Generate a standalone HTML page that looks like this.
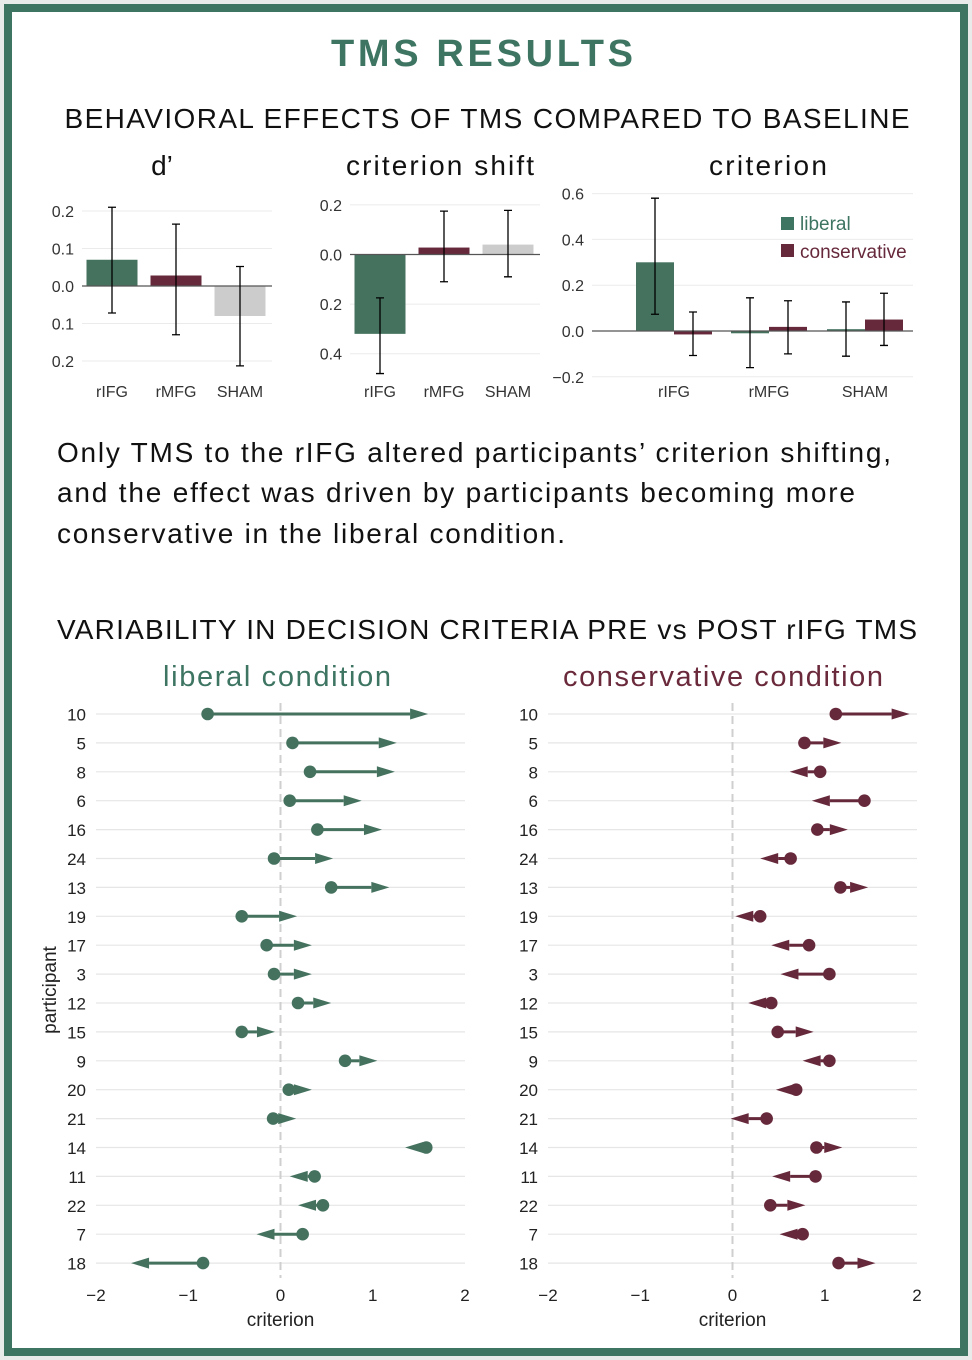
<!DOCTYPE html>
<html><head><meta charset="utf-8">
<style>
html,body{margin:0;padding:0;background:#fff;}
svg{display:block;font-family:"Liberation Sans",sans-serif;}
</style></head>
<body>
<svg id="s" width="972" height="1360" viewBox="0 0 972 1360" xmlns="http://www.w3.org/2000/svg">
<rect x="0" y="0" width="972" height="1360" fill="#e8ebe9"/>
<rect x="8" y="8" width="956" height="1344" fill="#fff" stroke="#3d7462" stroke-width="8"/>
<text x="484" y="66" text-anchor="middle" font-size="38" font-weight="bold" fill="#3d7462" letter-spacing="4" textLength="306">TMS RESULTS</text>
<text x="487" y="128" text-anchor="middle" font-size="28" fill="#111" textLength="845">BEHAVIORAL EFFECTS OF TMS COMPARED TO BASELINE</text>
<text x="162" y="175" text-anchor="middle" font-size="28" fill="#111">d’</text>
<text x="440" y="175" text-anchor="middle" font-size="28" fill="#111" textLength="188">criterion shift</text>
<text x="768" y="175" text-anchor="middle" font-size="28" fill="#111" textLength="118">criterion</text>
<g font-size="28" fill="#111">
<text x="57" y="462" textLength="834">Only TMS to the rIFG altered participants’ criterion shifting,</text>
<text x="57" y="502" textLength="798">and the effect was driven by participants becoming more</text>
<text x="57" y="543" textLength="508">conservative in the liberal condition.</text>
</g>
<text x="487" y="639" text-anchor="middle" font-size="28" fill="#111" textLength="860">VARIABILITY IN DECISION CRITERIA PRE vs POST rIFG TMS</text>
<text x="277" y="686" text-anchor="middle" font-size="29" fill="#3d7462" textLength="228">liberal condition</text>
<text x="723" y="686" text-anchor="middle" font-size="29" fill="#6a2a3c" textLength="320">conservative condition</text>
<g id="g"></g>
</svg>
<script>
const GREEN="#44725f", RED="#66283b", GRAY="#cccccc";
// d' chart
const dpCats=["rIFG","rMFG","SHAM"];
const dpVals=[0.07,0.028,-0.08];
const dpHi=[0.21,0.165,0.052];
const dpLo=[-0.072,-0.13,-0.213];
const dpTicks=[0.2,0.1,0,-0.1,-0.2];
const dpTickLabels=["0.2","0.1","0.0","0.1","0.2"];
// criterion shift chart
const csVals=[-0.32,0.028,0.04];
const csHi=[-0.175,0.175,0.178];
const csLo=[-0.48,-0.11,-0.09];
const csTicks=[0.2,0,-0.2,-0.4];
const csTickLabels=["0.2","0.0","0.2","0.4"];
// criterion chart
const crLib=[0.30,-0.01,0.008];
const crLibHi=[0.58,0.145,0.127];
const crLibLo=[0.073,-0.16,-0.11];
const crCon=[-0.015,0.018,0.05];
const crConHi=[0.083,0.132,0.165];
const crConLo=[-0.107,-0.1,-0.063];
const crTicks=[0.6,0.4,0.2,0,-0.2];
const crTickLabels=["0.6","0.4","0.2","0.0","\u22120.2"];
// participant data
const participants=["10","5","8","6","16","24","13","19","17","3","12","15","9","20","21","14","11","22","7","18"];
const libPre=[-0.79,0.13,0.32,0.10,0.40,-0.07,0.55,-0.42,-0.15,-0.07,0.19,-0.42,0.70,0.09,-0.08,1.58,0.37,0.46,0.24,-0.84];
const libPost=[1.60,1.26,1.24,0.88,1.10,0.57,1.18,0.18,0.34,0.34,0.55,-0.06,1.05,0.34,0.17,1.35,0.10,0.19,-0.26,-1.62];
const conPre=[1.12,0.78,0.95,1.43,0.92,0.63,1.17,0.30,0.83,1.05,0.42,0.49,1.05,0.69,0.37,0.91,0.90,0.41,0.76,1.15];
const conPost=[1.92,1.18,0.62,0.86,1.25,0.30,1.47,0.03,0.42,0.52,0.17,0.88,0.76,0.47,-0.02,1.19,0.43,0.79,0.51,1.55];
const xTicks=[-2,-1,0,1,2];
const xTickLabels=["\u22122","\u22121","0","1","2"];

const NS="http://www.w3.org/2000/svg";
const root=document.getElementById("g");
function el(tag,attrs,parent){const e=document.createElementNS(NS,tag);for(const k in attrs)e.setAttribute(k,attrs[k]);(parent||root).appendChild(e);return e;}
function txt(s,attrs,parent){const e=el("text",attrs,parent);e.textContent=s;return e;}

function errbar(g,x,y1,y2){
  const l=el("path",{d:`M${x} ${y1}V${y2}M${x-4} ${y1}H${x+4}M${x-4} ${y2}H${x+4}`,stroke:"#000","stroke-width":1.3,fill:"none"},g);
  
  
}

// simple bar chart
function barChart(name,x0,x1,y0,scale,ticks,labels,vals,hi,lo,colors,centers,bw){
  const g=el("g",{});
  
  
  const Y=v=>y0-v*scale;
  ticks.forEach((t,i)=>{
    if(t!==0){const gl=el("line",{x1:x0,x2:x1,y1:Y(t),y2:Y(t),stroke:"#ebebeb","stroke-width":1},g);
    }
    const tl=txt(labels[i],{x:x0-8,y:Y(t)+6,"text-anchor":"end","font-size":16,fill:"#333"},g);
    
  });
  vals.forEach((v,i)=>{
    const r=el("rect",{x:centers[i]-bw/2,y:Math.min(Y(v),y0),width:bw,height:Math.abs(Y(v)-y0),fill:colors[i]},g);
    
    
  });
  const z=el("line",{x1:x0,x2:x1,y1:y0,y2:y0,stroke:"#555","stroke-width":1.2},g);
  
  vals.forEach((v,i)=>errbar(g,centers[i],Y(hi[i]),Y(lo[i])));
  dpCats.forEach((c,i)=>{
    const t=txt(c,{x:centers[i],y:397,"text-anchor":"middle","font-size":16,fill:"#333"},g);
    
  });
}
barChart("dprime-chart",82,272,286,375,dpTicks,dpTickLabels,dpVals,dpHi,dpLo,[GREEN,RED,GRAY],[112,176,240],51);
barChart("criterion-shift-chart",350,540,254.5,248,csTicks,csTickLabels,csVals,csHi,csLo,[GREEN,RED,GRAY],[380,444,508],51);

// grouped criterion chart
(function(){
  const g=el("g",{});
  
  
  const y0=331,sc=229,x0=592,x1=913;const Y=v=>y0-v*sc;
  const centers=[674,769,865],bw=38;
  crTicks.forEach((t,i)=>{
    if(t!==0){const gl=el("line",{x1:x0,x2:x1,y1:Y(t),y2:Y(t),stroke:"#ebebeb"},g);
    }
    const tl=txt(crTickLabels[i],{x:x0-8,y:Y(t)+6,"text-anchor":"end","font-size":16,fill:"#333"},g);
    
  });
  centers.forEach((c,i)=>{
    const a=el("rect",{x:c-bw,y:Math.min(Y(crLib[i]),y0),width:bw,height:Math.abs(Y(crLib[i])-y0),fill:GREEN},g);
    
    const b=el("rect",{x:c,y:Math.min(Y(crCon[i]),y0),width:bw,height:Math.abs(Y(crCon[i])-y0),fill:RED},g);
    
  });
  const z=el("line",{x1:x0,x2:x1,y1:y0,y2:y0,stroke:"#555","stroke-width":1.2},g);
  
  centers.forEach((c,i)=>{
    errbar(g,c-bw/2,Y(crLibHi[i]),Y(crLibLo[i]));
    errbar(g,c+bw/2,Y(crConHi[i]),Y(crConLo[i]));
    const t=txt(dpCats[i],{x:c,y:397,"text-anchor":"middle","font-size":16,fill:"#333"},g);
    
  });
  const lg=el("g",{},g);
  
  const l1=el("rect",{x:781,y:217,width:13,height:13,fill:"#3d7462"},lg);
  
  const t1=txt("liberal",{x:800,y:230,"font-size":19,fill:"#3d7462"},lg);
  
  const l2=el("rect",{x:781,y:244,width:13,height:13,fill:RED},lg);
  
  const t2=txt("conservative",{x:800,y:258,"font-size":19,fill:RED},lg);
  
})();

// arrow dot plots
function arrowPlot(name,gx0,gx1,pre,post,color){
  const g=el("g",{});
  
  
  const X=v=>gx0+(v+2)*(gx1-gx0)/4;
  const rowY=i=>714+i*28.9;
  participants.forEach((p,i)=>{
    const gl=el("line",{x1:gx0,x2:gx1,y1:rowY(i),y2:rowY(i),stroke:"#e6e6e6","stroke-width":1.2},g);
    
    const t=txt(p,{x:gx0-10,y:rowY(i)+6.5,"text-anchor":"end","font-size":17,fill:"#222"},g);
    
  });
  const zl=el("line",{x1:X(0),x2:X(0),y1:703,y2:1278,stroke:"#cfcfcf","stroke-width":2,"stroke-dasharray":"8 5"},g);
  
  participants.forEach((p,i)=>{
    const y=rowY(i),a=X(pre[i]),b=X(post[i]);
    const dir=b>=a?1:-1,L=18,H=5.5;
    const base=b-dir*L;
    const ln=el("line",{x1:a,x2:base,y1:y,y2:y,stroke:color,"stroke-width":3},g);
    
    const ah=el("polygon",{points:`${b},${y} ${base},${y-H} ${base},${y+H}`,fill:color},g);
    
    const c=el("circle",{cx:a,cy:y,r:6.3,fill:color},g);
    
  });
  xTicks.forEach((t,i)=>{
    const tl=txt(xTickLabels[i],{x:X(t),y:1301,"text-anchor":"middle","font-size":17,fill:"#222"},g);
    
  });
  const xt=txt("criterion",{x:X(0),y:1326,"text-anchor":"middle","font-size":19,fill:"#222"},g);
  
}
arrowPlot("liberal-arrow-plot",96,465,libPre,libPost,GREEN);
arrowPlot("conservative-arrow-plot",548,917,conPre,conPost,RED);
const yt=txt("participant",{x:0,y:0,"text-anchor":"middle","font-size":19,fill:"#222",transform:"translate(56,990) rotate(-90)"});


</script>
</body></html>
